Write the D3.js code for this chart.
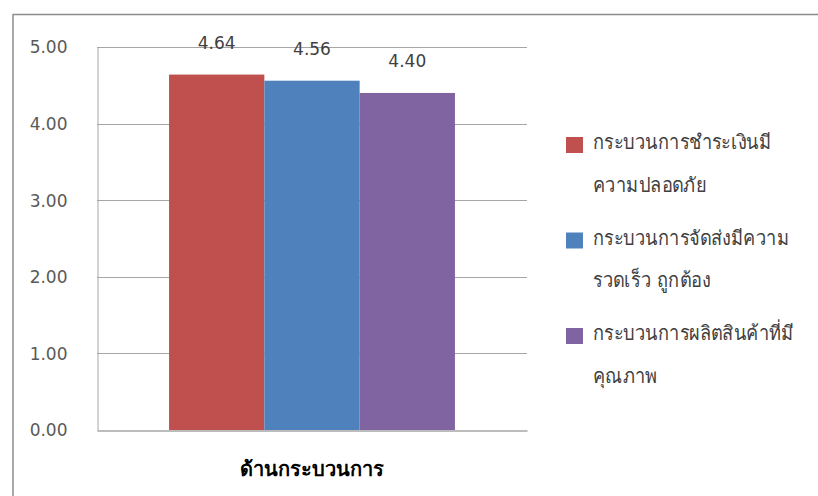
<!DOCTYPE html>
<html><head><meta charset="utf-8">
<script src="https://cdn.jsdelivr.net/npm/d3@7"></script>
<style>
body{margin:0;background:#fff;}
svg text{font-family:"DejaVu Sans","Noto Sans",sans-serif;}
</style></head>
<body><svg id="c" width="818" height="496"></svg>
<script>
const categories = ["ด้านกระบวนการ"];
const seriesNames = [
  ["กระบวนการชำระเงินมี","ความปลอดภัย"],
  ["กระบวนการจัดส่งมีความ","รวดเร็ว ถูกต้อง"],
  ["กระบวนการผลิตสินค้าที่มี","คุณภาพ"]
];
const seriesValues = [4.64, 4.56, 4.40];
const seriesColors = ["#C0504D","#4F81BD","#8064A2"];
const yTicks = [0,1,2,3,4,5];

const svg = d3.select("#c");
const L = 97, R = 527, T = 47, B = 430;

// frame
svg.append("line").attr("x1",13).attr("x2",818).attr("y1",14.5).attr("y2",14.5).attr("stroke","#8c8c8c").attr("stroke-width",1.5);
svg.append("line").attr("x1",13).attr("x2",13).attr("y1",14).attr("y2",496).attr("stroke","#8c8c8c").attr("stroke-width",1.5);

const y = d3.scaleLinear().domain([0,5]).range([B,T]);
const x0 = d3.scaleBand().domain(categories).range([L,R]).paddingInner(0).paddingOuter(0.252);
const x1 = d3.scaleBand().domain(d3.range(seriesValues.length)).range([0,x0.bandwidth()]);

// gridlines
svg.append("g").selectAll("line").data(yTicks.filter(d=>d>0)).join("line")
  .attr("x1",L).attr("x2",R).attr("y1",d=>Math.round(y(d))+0.5).attr("y2",d=>Math.round(y(d))+0.5)
  .attr("stroke","#a6a6a6").attr("stroke-width",1);

// y axis
const yAxis = d3.axisLeft(y).tickValues(yTicks).tickFormat(d3.format(".2f")).tickSize(0).tickPadding(30);
const gy = svg.append("g").attr("transform",`translate(${L+0.5},0)`).call(yAxis);
gy.select(".domain").attr("stroke","#a6a6a6");
gy.selectAll("text").attr("font-size",17).attr("fill","#595959").attr("dy","0.35em");

// bars
const bars = svg.append("g");
categories.forEach(c=>{
  seriesValues.forEach((v,i)=>{
    bars.append("rect").attr("x",x0(c)+x1(i)).attr("width",x1.bandwidth())
      .attr("y",y(v)).attr("height",B-y(v)).attr("fill",seriesColors[i]);
    svg.append("text").attr("x",x0(c)+x1(i)+x1.bandwidth()/2).attr("y",y(v)-26)
      .attr("text-anchor","middle").attr("font-size",17).attr("fill","#404040").text(v.toFixed(2));
  });
});

// x axis
const xAxis = d3.axisBottom(x0).tickSize(0).tickPadding(0).tickFormat(()=>"");
const gx = svg.append("g").attr("transform",`translate(0,${B+0.5})`).call(xAxis);
gx.select(".domain").attr("stroke","#a6a6a6").attr("stroke-width",1.5);
svg.append("text").attr("x",x0(categories[0])+x0.bandwidth()/2).attr("y",476)
  .attr("text-anchor","middle").attr("font-size",20).attr("font-weight","bold").attr("fill","#000").text(categories[0]);

// legend
const lg = svg.append("g");
seriesNames.forEach((lines,i)=>{
  const ty = 149 + i*95.5;
  lg.append("rect").attr("x",566).attr("y",ty-12).attr("width",17).attr("height",16).attr("fill",seriesColors[i]);
  lines.forEach((t,j)=>{
    lg.append("text").attr("transform",`translate(593,${ty + j*42.5}) scale(0.91,1)`)
      .attr("font-size",20).attr("fill","#404040").text(t);
  });
});
</script></body></html>
